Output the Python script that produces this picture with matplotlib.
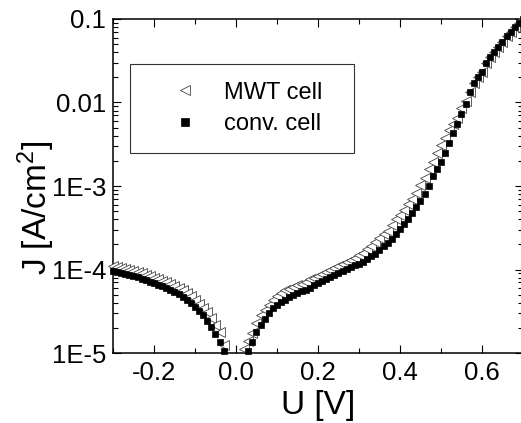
import matplotlib
matplotlib.use("Agg")
import matplotlib.pyplot as plt
from matplotlib.ticker import FixedLocator, FixedFormatter, LogLocator, NullFormatter, MultipleLocator

# ---------------- data ----------------
mwt_U = [-0.30, -0.29, -0.28, -0.27, -0.26, -0.25, -0.24, -0.23, -0.22, -0.21,
         -0.20, -0.19, -0.18, -0.17, -0.16, -0.15, -0.14, -0.13, -0.12, -0.11,
         -0.10, -0.09, -0.08, -0.07, -0.06, -0.05, -0.04, -0.03,
         0.02, 0.03, 0.04, 0.05, 0.06, 0.07, 0.08, 0.09, 0.10,
         0.11, 0.12, 0.13, 0.14, 0.15, 0.16, 0.17, 0.18, 0.19, 0.20,
         0.21, 0.22, 0.23, 0.24, 0.25, 0.26, 0.27, 0.28, 0.29, 0.30,
         0.31, 0.32, 0.33, 0.34, 0.35, 0.36, 0.37, 0.38, 0.39, 0.40,
         0.41, 0.42, 0.43, 0.44, 0.45, 0.46, 0.47, 0.48, 0.49, 0.50,
         0.51, 0.52, 0.53, 0.54, 0.55, 0.56, 0.57, 0.58, 0.59, 0.60,
         0.61, 0.62, 0.63, 0.64, 0.65, 0.66, 0.67, 0.68, 0.69, 0.70]
mwt_J = [1.10e-4, 1.07e-4, 1.05e-4, 1.02e-4, 1.00e-4, 9.66e-5, 9.44e-5, 9.02e-5, 8.71e-5, 8.32e-5,
         7.94e-5, 7.67e-5, 7.33e-5, 7.00e-5, 6.68e-5, 6.31e-5, 5.96e-5, 5.62e-5, 5.19e-5, 4.79e-5,
         4.37e-5, 3.89e-5, 3.47e-5, 3.09e-5, 2.63e-5, 2.19e-5, 1.78e-5, 1.26e-5,
         1.12e-5, 1.41e-5, 1.74e-5, 2.29e-5, 2.82e-5, 3.31e-5, 3.80e-5, 4.27e-5, 4.79e-5,
         5.25e-5, 5.62e-5, 5.89e-5, 6.17e-5, 6.46e-5, 6.76e-5, 7.16e-5, 7.59e-5, 7.94e-5, 8.41e-5,
         8.91e-5, 9.44e-5, 1.00e-4, 1.05e-4, 1.11e-4, 1.16e-4, 1.23e-4, 1.29e-4, 1.38e-4, 1.48e-4,
         1.58e-4, 1.74e-4, 1.91e-4, 2.14e-4, 2.40e-4, 2.63e-4, 2.88e-4, 3.39e-4, 3.98e-4, 4.47e-4,
         5.13e-4, 6.03e-4, 7.08e-4, 8.32e-4, 1.02e-3, 1.26e-3, 1.62e-3, 1.95e-3, 2.51e-3, 3.09e-3,
         3.80e-3, 4.68e-3, 5.50e-3, 6.61e-3, 8.51e-3, 1.05e-2, 1.32e-2, 1.70e-2, 2.00e-2, 2.34e-2,
         2.95e-2, 3.55e-2, 3.98e-2, 4.68e-2, 5.37e-2, 6.31e-2, 7.08e-2, 7.94e-2, 8.91e-2, 1.00e-1]

conv_U = [-0.30, -0.29, -0.28, -0.27, -0.26, -0.25, -0.24, -0.23, -0.22, -0.21,
          -0.20, -0.19, -0.18, -0.17, -0.16, -0.15, -0.14, -0.13, -0.12, -0.11,
          -0.10, -0.09, -0.08, -0.07, -0.06, -0.05, -0.04, -0.03,
          0.03, 0.04, 0.05, 0.06, 0.07, 0.08, 0.09, 0.10,
          0.11, 0.12, 0.13, 0.14, 0.15, 0.16, 0.17, 0.18, 0.19, 0.20,
          0.21, 0.22, 0.23, 0.24, 0.25, 0.26, 0.27, 0.28, 0.29, 0.30,
          0.31, 0.32, 0.33, 0.34, 0.35, 0.36, 0.37, 0.38, 0.39, 0.40,
          0.41, 0.42, 0.43, 0.44, 0.45, 0.46, 0.47, 0.48, 0.49, 0.50,
          0.51, 0.52, 0.53, 0.54, 0.55, 0.56, 0.57, 0.58, 0.59, 0.60,
          0.61, 0.62, 0.63, 0.64, 0.65, 0.66, 0.67, 0.68, 0.69, 0.70]
conv_J = [9.55e-5, 9.33e-5, 9.12e-5, 8.91e-5, 8.61e-5, 8.32e-5, 8.13e-5, 7.76e-5, 7.50e-5, 7.16e-5,
          6.84e-5, 6.61e-5, 6.31e-5, 6.03e-5, 5.69e-5, 5.37e-5, 5.07e-5, 4.73e-5, 4.37e-5, 3.98e-5,
          3.55e-5, 3.16e-5, 2.82e-5, 2.45e-5, 2.04e-5, 1.70e-5, 1.35e-5, 1.05e-5,
          1.07e-5, 1.35e-5, 1.78e-5, 2.19e-5, 2.57e-5, 3.02e-5, 3.47e-5, 3.80e-5,
          4.07e-5, 4.37e-5, 4.68e-5, 4.95e-5, 5.25e-5, 5.50e-5, 5.75e-5, 6.03e-5, 6.46e-5, 6.84e-5,
          7.24e-5, 7.67e-5, 8.13e-5, 8.51e-5, 9.02e-5, 9.55e-5, 1.02e-4, 1.07e-4, 1.12e-4, 1.17e-4,
          1.23e-4, 1.32e-4, 1.45e-4, 1.55e-4, 1.70e-4, 1.91e-4, 2.09e-4, 2.34e-4, 2.69e-4, 3.09e-4,
          3.55e-4, 4.07e-4, 4.79e-4, 5.62e-4, 6.61e-4, 7.94e-4, 1.00e-3, 1.32e-3, 1.58e-3, 1.95e-3,
          2.51e-3, 3.24e-3, 4.27e-3, 5.50e-3, 7.24e-3, 9.55e-3, 1.32e-2, 1.70e-2, 2.04e-2, 2.34e-2,
          2.95e-2, 3.55e-2, 3.98e-2, 4.68e-2, 5.37e-2, 6.31e-2, 7.08e-2, 7.94e-2, 8.91e-2, 1.00e-1]

series_labels = ["MWT cell", "conv. cell"]
y_tick_values = [1e-5, 1e-4, 1e-3, 1e-2, 1e-1]
y_tick_labels = ["1E-5", "1E-4", "1E-3", "0.01", "0.1"]
x_tick_values = [-0.2, 0.0, 0.2, 0.4, 0.6]
x_tick_labels = ["-0.2", "0.0", "0.2", "0.4", "0.6"]

# ---------------- style ----------------
plt.rcParams['font.family'] = ['Liberation Sans', 'DejaVu Sans']
plt.rcParams['mathtext.fontset'] = 'custom'
plt.rcParams['mathtext.rm'] = 'Liberation Sans'
plt.rcParams['mathtext.it'] = 'Liberation Sans'
plt.rcParams['mathtext.default'] = 'regular'

W, H = 521, 423
fig = plt.figure(figsize=(W / 100, H / 100), dpi=100)
ax = fig.add_axes([113 / W, 1 - 353 / H, (523 - 113) / W, (353 - 19) / H])

ax.plot(mwt_U, mwt_J, linestyle='none', marker='<', markersize=6.5,
        markerfacecolor='white', markeredgecolor='#444444', markeredgewidth=0.6,
        label=series_labels[0], clip_on=False, zorder=3)
ax.plot(conv_U, conv_J, linestyle='none', marker='s', markersize=5,
        markerfacecolor='black', markeredgecolor='black', markeredgewidth=0.5,
        label=series_labels[1], clip_on=False, zorder=4)

ax.set_yscale('log')
ax.set_xlim(-0.3, 0.7)
ax.set_ylim(1e-5, 1e-1)

ax.xaxis.set_major_locator(FixedLocator(x_tick_values))
ax.xaxis.set_major_formatter(FixedFormatter(x_tick_labels))
ax.xaxis.set_minor_locator(MultipleLocator(0.1))
ax.yaxis.set_major_locator(FixedLocator(y_tick_values))
ax.yaxis.set_major_formatter(FixedFormatter(y_tick_labels))
ax.yaxis.set_minor_locator(LogLocator(base=10, subs=range(2, 10), numticks=20))
ax.yaxis.set_minor_formatter(NullFormatter())

ax.tick_params(which='both', direction='in', top=True, right=True, width=0.8)
ax.tick_params(which='major', length=6, labelsize=18.5)
ax.tick_params(axis='x', which='major', pad=5.5)
ax.tick_params(axis='y', which='major', pad=5)
ax.tick_params(which='minor', length=3.5)
for s in ax.spines.values():
    s.set_linewidth(1.1)

ax.set_xlabel('U [V]', fontsize=24, labelpad=3.5)
fig.text(36 / W, 1 - 208 / H, 'J [A/cm$^2$]', rotation=90, fontsize=24,
         ha='center', va='center')

leg = ax.legend(loc='upper left', mode='expand',
                bbox_to_anchor=(130 / W, 1 - 152 / H, 224 / W, 88 / H),
                bbox_transform=fig.transFigure, fontsize=17, frameon=True,
                fancybox=False, edgecolor='black', borderpad=0.75,
                handlelength=3.2, handletextpad=0.05, labelspacing=0.4,
                borderaxespad=0, numpoints=1)
leg.get_frame().set_linewidth(0.8)
for h in leg.legend_handles:
    h.set_markersize(6.5 if h.get_marker() == '<' else 5.5)

fig.savefig('out.png', dpi=100)
